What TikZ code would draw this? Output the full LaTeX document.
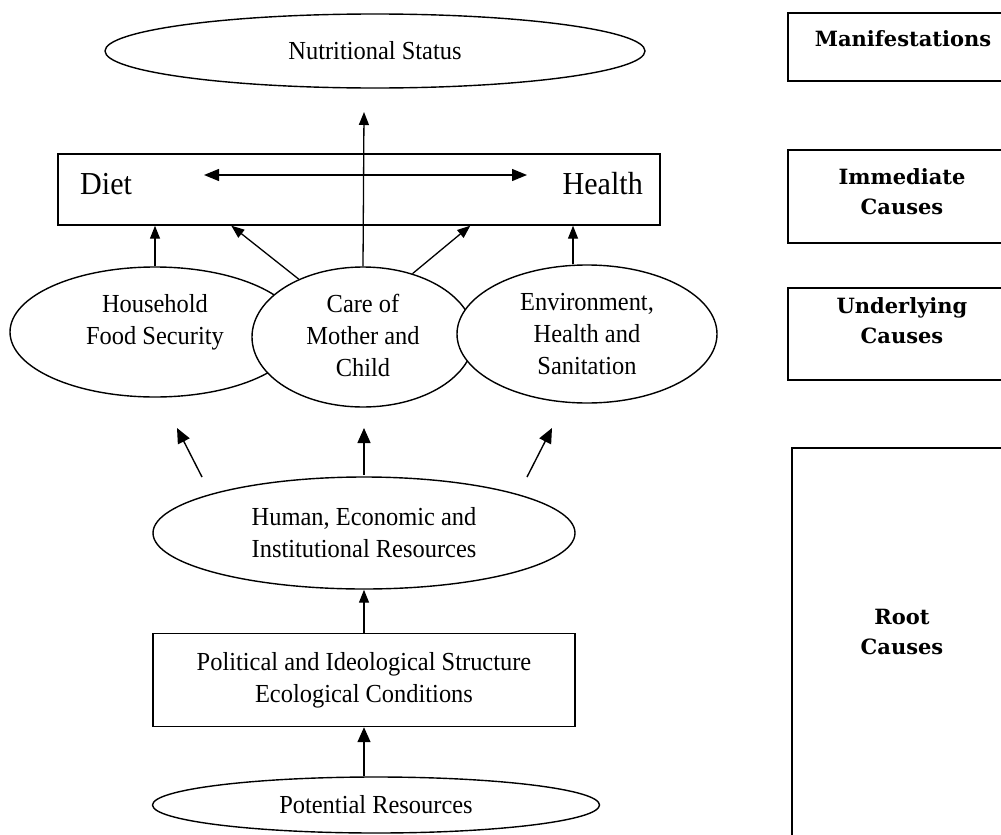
\documentclass[tikz,border=0pt]{standalone}
\usepackage{fontspec}
\setmainfont{Liberation Serif}[FakeStretch=0.94]
\newfontfamily\levelfont{DejaVu Serif}
\usetikzlibrary{shapes.geometric,arrows.meta}
\begin{document}
\begin{tikzpicture}[x=1pt,y=-1pt,
  every node/.style={inner sep=0pt},
  txt/.style={font=\fontsize{26}{32}\selectfont, align=center},
  bigtxt/.style={font=\fontsize{32}{34}\selectfont},
  oval/.style={draw, ellipse, line width=1.4pt, fill=white},
  panel/.style={draw, rectangle, line width=1.4pt},
  level/.style={font=\levelfont\bfseries\fontsize{21}{30}\selectfont, align=center},
  arr/.style={line width=1.3pt, -{Triangle[length=13pt,width=10pt]}},
  barr/.style={line width=1.4pt, -{Triangle[length=15pt,width=13pt]}},
  darr/.style={line width=1.3pt, {Triangle[length=15pt,width=12pt]}-{Triangle[length=15pt,width=12pt]}}]
\useasboundingbox (0,0) rectangle (1001,835);

% --- conceptual framework, left column ---
\node[oval, minimum width=540pt, minimum height=74pt] (ns) at (375,51) {};
\node[txt] (nst) at (ns) {Nutritional Status};

\node[panel, minimum width=602pt, minimum height=71pt] (ih) at (359,189.5) {};
\node[bigtxt, anchor=base west] (diet) at (80,194) {Diet};
\node[bigtxt, anchor=base east] (health) at (643,194) {Health};
\coordinate (dl) at (204,175);
\coordinate (dr) at (527,175);
\draw[darr] (dl) -- (dr);

% underlying causes: three overlapping ellipses, later ones on top
\node[oval, minimum width=290pt, minimum height=130pt] (hfs) at (155,332) {};
\node[oval, minimum width=222pt, minimum height=140pt] (care) at (363,337) {};
\node[oval, minimum width=260pt, minimum height=138pt] (env) at (587,334) {};
\node[txt] (hfst) at (155,322) {Household\\Food Security};
\node[txt] (caret) at (363,335) {Care of\\Mother and\\Child};
\node[txt] (envt) at (587,334) {Environment,\\Health and\\Sanitation};

\coordinate (nstip) at (364,112);
\draw[arr] (care.north) -- (nstip);
\draw[arr] (hfs.north) -- (hfs.north |- ih.south);
\draw[arr] (care.138) -- ([xshift=174pt]ih.south west);
\draw[arr] (care.52) -- ([xshift=413pt]ih.south west);
\draw[arr] ([xshift=-14pt]env.north) -- ([xshift=-14pt]env.north |- ih.south);

\node[oval, minimum width=422pt, minimum height=112pt] (hr) at (364,533) {};
\node[txt] (hrt) at (hr) {Human, Economic and\\Institutional Resources};
\coordinate (l1) at (202,477); \coordinate (l2) at (177,428);
\coordinate (m1) at (364,475); \coordinate (m2) at (364,428);
\coordinate (r1) at (527,477); \coordinate (r2) at (552,428);
\draw[barr] (l1) -- (l2);
\draw[barr] (m1) -- (m2);
\draw[barr] (r1) -- (r2);

\node[panel, minimum width=422pt, minimum height=93pt] (pol) at (364,680) {};
\node[txt] (polt) at (pol) {Political and Ideological Structure\\Ecological Conditions};
\draw[arr] (pol.north) -- (hr.south);

\node[oval, minimum width=447pt, minimum height=56pt] (pr) at (376,805) {};
\node[txt] (prt) at (pr) {Potential Resources};
\draw[barr] (pol.south |- pr.north) -- (pol.south);

% --- levels, right column ---
\draw[line width=1.4pt] (788,13) rectangle (1012,81);
\node[level] (man) at (903,39) {Manifestations};
\draw[line width=1.4pt] (788,150) rectangle (1012,243);
\node[level] (imm) at (902,192) {Immediate\\Causes};
\draw[line width=1.4pt] (788,288) rectangle (1012,380);
\node[level] (und) at (902,321) {Underlying\\Causes};
\draw[line width=1.4pt] (792,448) rectangle (1012,850);
\node[level] (root) at (902,632) {Root\\Causes};
\end{tikzpicture}
\end{document}
